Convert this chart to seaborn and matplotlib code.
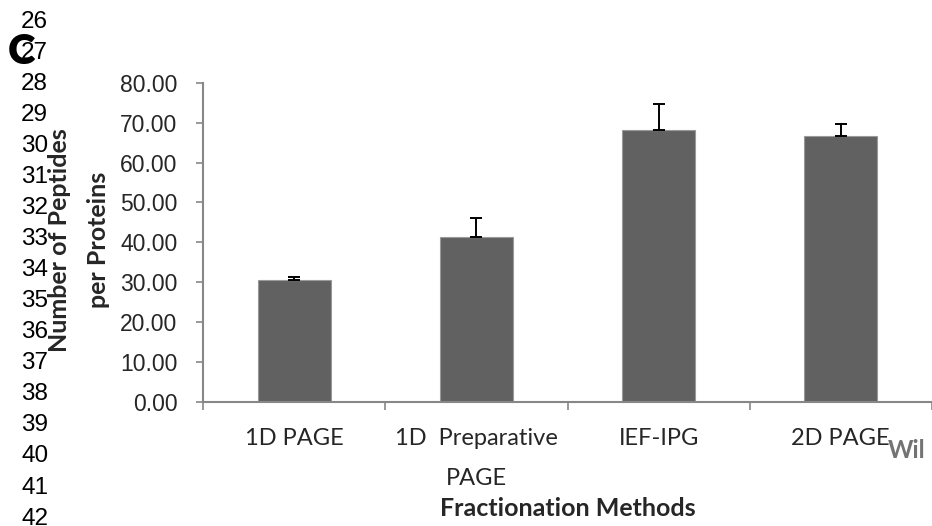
import matplotlib
matplotlib.use("Agg")
import matplotlib.pyplot as plt
import seaborn as sns
import pandas as pd

# Fractionation methods compared, mean peptides per protein and upper SD
methods = ["1D PAGE", "1D  Preparative\nPAGE", "IEF-IPG", "2D PAGE"]
peptides_per_protein = [30.64, 41.27, 68.23, 66.65]
sd_upper = [0.75, 4.83, 6.36, 3.08]
y_ticks = [0, 10, 20, 30, 40, 50, 60, 70, 80]

# manuscript line numbers in the left margin
line_numbers = ["26", "27", "28", "29", "30", "31", "32", "33", "34",
                "35", "36", "37", "38", "39", "40", "41", "42"]

sns.set_style("white")
plt.rcParams["font.family"] = ["Lato", "DejaVu Sans"]

df = pd.DataFrame({"method": methods, "value": peptides_per_protein})

W, H = 932, 526
fig = plt.figure(figsize=(W / 100, H / 100), dpi=100)
ax = fig.add_axes([203.3 / W, 1 - 402 / H, (931.8 - 203.3) / W, (402 - 82.7) / H])

bar_color = "#616161"
axis_gray = "#878787"

sns.barplot(data=df, x="method", y="value", color=bar_color, width=0.4,
            edgecolor="#9a9a9a", linewidth=0.8, errorbar=None, ax=ax,
            saturation=1)

# upper-only error bars
pos = list(range(len(methods)))
ax.errorbar(pos, peptides_per_protein,
            yerr=[[0] * len(sd_upper), sd_upper],
            fmt="none", ecolor="black", elinewidth=1.4, capsize=4.3,
            capthick=1.4, zorder=3)

ax.set_xlim(-0.5, len(methods) - 0.5)
ax.set_ylim(0, 80)
ax.set_yticks(y_ticks)
ax.set_yticklabels([f"{v:.2f}" for v in y_ticks],
                   fontfamily="Liberation Sans", fontsize=16.5)

# tick marks between categories, labels centred under bars
ax.set_xticks([p - 0.5 for p in pos] + [len(methods) - 0.5])
ax.set_xticklabels([])
ax.set_xticks(pos, minor=True)
ax.set_xticklabels(methods, minor=True, fontsize=17, linespacing=2.15)

ax.tick_params(axis="x", which="major", direction="out", length=6,
               width=1.2, color=axis_gray, bottom=True)
ax.tick_params(axis="x", which="minor", length=0, pad=18.5, bottom=True)
ax.tick_params(axis="y", which="major", direction="out", length=5,
               width=1.2, color=axis_gray, pad=13.5, left=True)

for side in ("top", "right"):
    ax.spines[side].set_visible(False)
for side in ("left", "bottom"):
    ax.spines[side].set_color(axis_gray)
    ax.spines[side].set_linewidth(1.5)

ax.set_xlabel("Fractionation Methods", fontsize=18, fontweight="bold")
ax.xaxis.label.set_va("center")
ax.xaxis.set_label_coords(0.5, (402 - 509) / (402 - 82.7))

ax.set_ylabel("Number of Peptides\nper Proteins", fontsize=18,
              fontweight="bold", linespacing=1.8)
ax.yaxis.label.set_va("center")
ax.yaxis.set_label_coords((79 - 203.3) / (931.8 - 203.3), 0.507)

# margin line numbers and panel letter
for i, num in enumerate(line_numbers):
    fig.text(21 / W, 1 - (21.6 + 31.06 * i) / H, num, ha="left", va="center",
             fontfamily="Liberation Sans", fontsize=17.5, color="black")
fig.text(21.5 / W, 1 - 52.5 / H, "C", ha="center", va="center",
         fontsize=30, fontweight="heavy", color="black")

fig.text(888 / W, 1 - 450 / H, "Wil", ha="left", va="center",
         fontsize=17.5, fontweight="bold", color="#737373")

fig.savefig("out.png", dpi=100)
